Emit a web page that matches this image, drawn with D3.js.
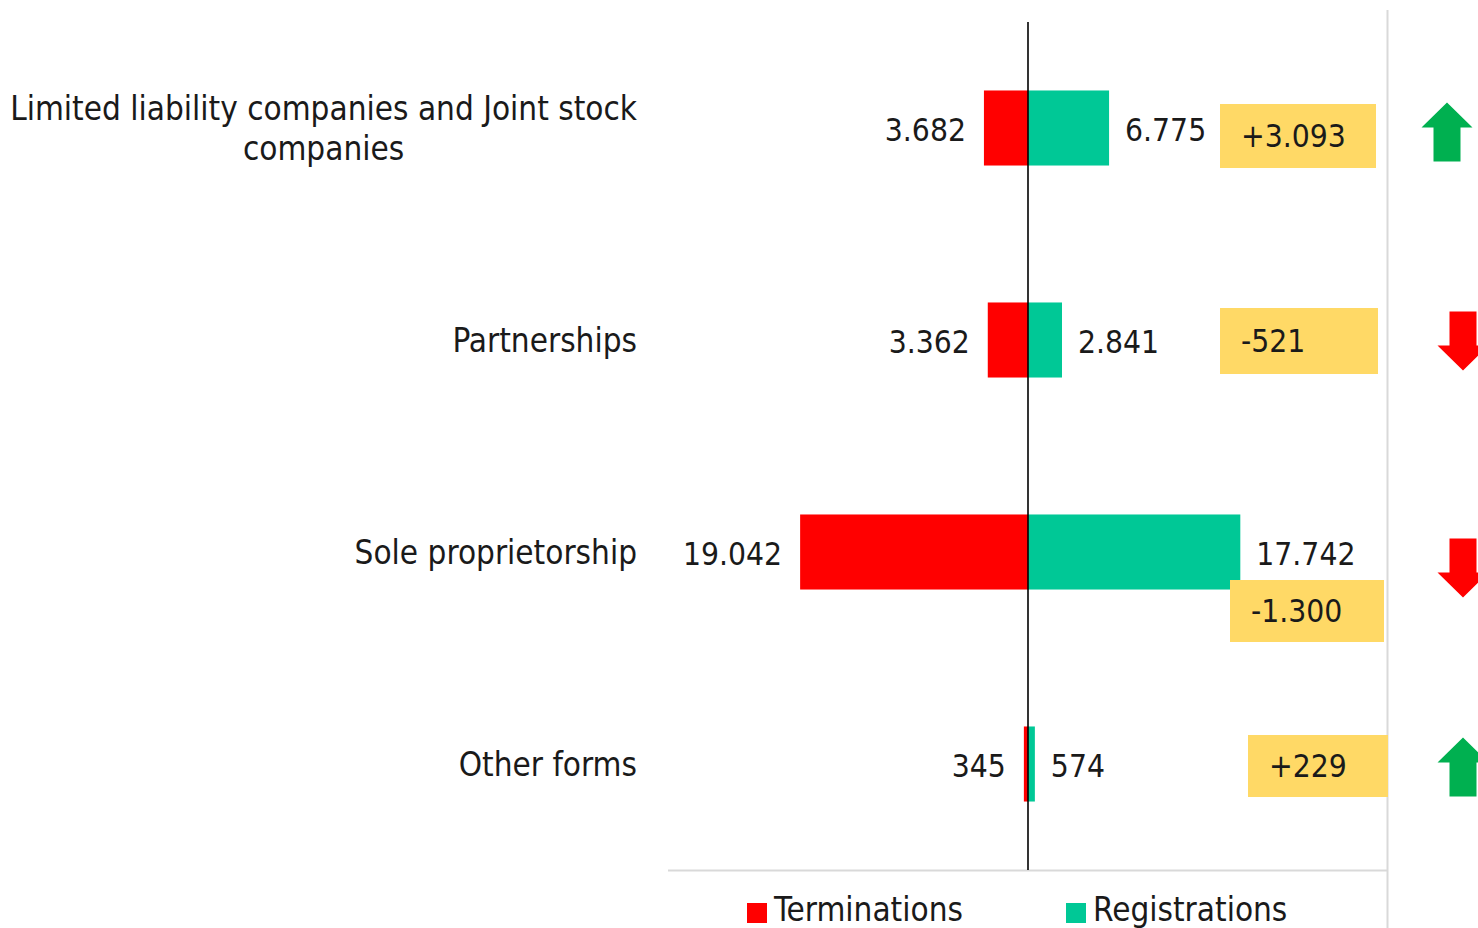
<!DOCTYPE html>
<html>
<head>
<meta charset="utf-8">
<script src="https://cdn.jsdelivr.net/npm/d3@7"></script>
<style>
  html, body { margin: 0; padding: 0; background: #ffffff; }
  svg { display: block; }
  text { font-family: "DejaVu Sans Condensed", "DejaVu Sans", sans-serif; font-stretch: condensed; fill: #1a1a1a; }
</style>
</head>
<body>
<svg id="chart" width="1478" height="928"></svg>
<script>
// ---- data ----
const categories = [
  "Limited liability companies and Joint stock companies",
  "Partnerships",
  "Sole proprietorship",
  "Other forms"
];
const terminations = [3682, 3362, 19042, 345];
const registrations = [6775, 2841, 17742, 574];
const seriesNames = ["Terminations", "Registrations"];

// ---- layout (not data) ----
const W = 1478, H = 928;
const plot = { left: 669, right: 1387, top: 22, bottom: 870 };
const colors = { term: "#FF0000", reg: "#00C896", box: "#FFD966", up: "#00B050", down: "#FF0000", grid: "#D9D9D9" };
// difference box placement per row: [x, dy from row centre, width, height]
const boxLayout = [[1220, -24, 156, 64], [1220, -32, 158, 66], [1230, 28, 154, 62], [1248, -29, 140, 62]];
// arrow placement per row: [centre x, centre dy]
const arrowLayout = [[1447, 4], [1463, 1], [1463, 16], [1463, 3]];

const locale = d3.formatLocale({ decimal: ",", thousands: ".", grouping: [3], currency: ["", ""], minus: "-" });
const fmt = locale.format(",d");
const fmtSigned = v => (v > 0 ? "+" : "") + locale.format(",d")(v);

const svg = d3.select("#chart");

const x = d3.scaleLinear().domain([-30000, 30000]).range([plot.left, plot.right]);
const y = d3.scaleBand().domain(categories).range([plot.top, plot.bottom])
  .paddingInner(0.646).paddingOuter(0.323);

const rows = categories.map((c, i) => ({
  cat: c, i, t: terminations[i], r: registrations[i], diff: registrations[i] - terminations[i]
}));
const cy = d => y(d.cat) + y.bandwidth() / 2;

// gray frame lines
svg.append("line").attr("x1", plot.left - 1).attr("x2", plot.right + 1)
  .attr("y1", plot.bottom + 0.5).attr("y2", plot.bottom + 0.5)
  .attr("stroke", colors.grid).attr("stroke-width", 2);
svg.append("line").attr("x1", plot.right + 0.5).attr("x2", plot.right + 0.5)
  .attr("y1", 10).attr("y2", H)
  .attr("stroke", colors.grid).attr("stroke-width", 2);

// bars
svg.append("g").selectAll("rect").data(rows).join("rect")
  .attr("x", d => x(-d.t)).attr("width", d => x(0) - x(-d.t))
  .attr("y", d => y(d.cat)).attr("height", y.bandwidth())
  .attr("fill", colors.term);
svg.append("g").selectAll("rect").data(rows).join("rect")
  .attr("x", x(0)).attr("width", d => x(d.r) - x(0))
  .attr("y", d => y(d.cat)).attr("height", y.bandwidth())
  .attr("fill", colors.reg);

// zero line
svg.append("line").attr("x1", x(0)).attr("x2", x(0))
  .attr("y1", plot.top).attr("y2", plot.bottom)
  .attr("stroke", "#000").attr("stroke-width", 1.6);

// value labels
svg.append("g").selectAll("text").data(rows).join("text")
  .attr("x", d => x(-d.t) - 18).attr("y", d => cy(d) + 2).attr("dy", "0.36em")
  .attr("text-anchor", "end").attr("font-size", 31.5)
  .text(d => fmt(d.t));
svg.append("g").selectAll("text").data(rows).join("text")
  .attr("x", d => x(d.r) + 16).attr("y", d => cy(d) + 2).attr("dy", "0.36em")
  .attr("text-anchor", "start").attr("font-size", 31.5)
  .text(d => fmt(d.r));

// category labels (wrapped, right aligned block, centred lines)
const catG = svg.append("g");
const labelRight = 637, maxW = 640, lineH = 40;
rows.forEach(d => {
  const words = d.cat.split(" ");
  const tmp = catG.append("text").attr("font-size", 33);
  const lines = [];
  let cur = [];
  words.forEach(w => {
    cur.push(w);
    tmp.text(cur.join(" "));
    if (tmp.node().getComputedTextLength() > maxW && cur.length > 1) {
      cur.pop();
      lines.push(cur.join(" "));
      cur = [w];
    }
  });
  lines.push(cur.join(" "));
  const widths = lines.map(l => { tmp.text(l); return tmp.node().getComputedTextLength(); });
  tmp.remove();
  const blockW = d3.max(widths);
  const anchorX = lines.length > 1 ? labelRight - blockW / 2 : labelRight;
  const t = catG.append("text").attr("font-size", 33)
    .attr("text-anchor", lines.length > 1 ? "middle" : "end");
  const y0 = cy(d) - (lines.length - 1) * lineH / 2;
  lines.forEach((l, k) => {
    t.append("tspan").attr("x", anchorX).attr("y", y0 + k * lineH).attr("dy", "0.36em").text(l);
  });
});

// difference boxes
const boxG = svg.append("g").selectAll("g").data(rows).join("g");
boxG.append("rect")
  .attr("x", d => boxLayout[d.i][0]).attr("y", d => cy(d) + boxLayout[d.i][1])
  .attr("width", d => boxLayout[d.i][2]).attr("height", d => boxLayout[d.i][3])
  .attr("fill", colors.box);
boxG.append("text")
  .attr("x", d => boxLayout[d.i][0] + 21)
  .attr("y", d => cy(d) + boxLayout[d.i][1] + boxLayout[d.i][3] / 2)
  .attr("dy", "0.36em").attr("font-size", 31.5)
  .text(d => fmtSigned(d.diff));

// arrows
const aw = 51, ah = 59, headH = 25, shaftW = 27;
const arrowPath = up => {
  const pts = up
    ? [[0, -ah / 2], [aw / 2, -ah / 2 + headH], [shaftW / 2, -ah / 2 + headH], [shaftW / 2, ah / 2],
       [-shaftW / 2, ah / 2], [-shaftW / 2, -ah / 2 + headH], [-aw / 2, -ah / 2 + headH]]
    : [[0, ah / 2], [aw / 2, ah / 2 - headH], [shaftW / 2, ah / 2 - headH], [shaftW / 2, -ah / 2],
       [-shaftW / 2, -ah / 2], [-shaftW / 2, ah / 2 - headH], [-aw / 2, ah / 2 - headH]];
  return d3.line()(pts) + "Z";
};
svg.append("g").selectAll("path").data(rows).join("path")
  .attr("transform", d => `translate(${arrowLayout[d.i][0]},${cy(d) + arrowLayout[d.i][1]})`)
  .attr("d", d => arrowPath(d.diff > 0))
  .attr("fill", d => d.diff > 0 ? colors.up : colors.down);

// legend
const legendX = [747, 1066];
const lg = svg.append("g").selectAll("g").data(seriesNames).join("g")
  .attr("transform", (d, i) => `translate(${legendX[i]},903)`);
lg.append("rect").attr("width", 20).attr("height", 20)
  .attr("fill", (d, i) => i === 0 ? colors.term : colors.reg);
lg.append("text").attr("x", 27).attr("y", 18).attr("font-size", 33).text(d => d);
</script>
</body>
</html>
